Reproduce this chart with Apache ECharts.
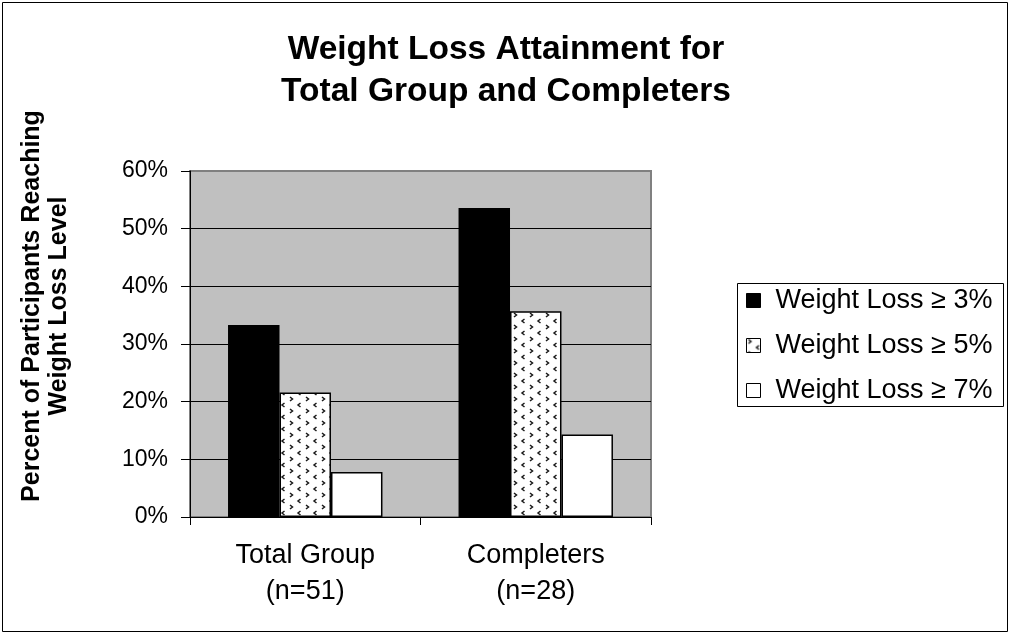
<!DOCTYPE html>
<html>
<head>
<meta charset="utf-8">
<script src="https://cdn.jsdelivr.net/npm/echarts@6/dist/echarts.min.js"></script>
<style>
  html, body { margin: 0; padding: 0; background: #fff; }
  #chart { width: 1012px; height: 635px; }
</style>
</head>
<body>
<div id="chart"></div>
<script>
// Chart data
const categories = ['Total Group\n(n=51)', 'Completers\n(n=28)'];
const seriesNames = ['Weight Loss \u2265 3%', 'Weight Loss \u2265 5%', 'Weight Loss \u2265 7%'];
const loss3 = [33.3, 53.6];
const loss5 = [21.6, 35.7];
const loss7 = [7.8, 14.3];
const yTicks = { min: 0, max: 60, interval: 10 };

const FONT = '"Liberation Sans", Arial, sans-serif';

// Small tile of alternating chevrons used as the fill of the middle series
function chevronTile() {
  const c = document.createElement('canvas');
  c.width = 16; c.height = 12;
  const g = c.getContext('2d');
  g.fillStyle = '#ffffff';
  g.fillRect(0, 0, 16, 12);
  g.strokeStyle = '#1a1a1a';
  g.lineWidth = 1.5;
  g.beginPath(); g.moveTo(2, 1); g.lineTo(4.5, 3); g.lineTo(2, 5); g.stroke();
  g.beginPath(); g.moveTo(12.5, 7); g.lineTo(10, 9); g.lineTo(12.5, 11); g.stroke();
  return c;
}

const chart = echarts.init(document.getElementById('chart'), null, { renderer: 'canvas' });

const barBase = { type: 'bar', barGap: '0%', barCategoryGap: '33%' };

chart.setOption({
  animation: false,
  backgroundColor: '#ffffff',
  textStyle: { fontFamily: FONT, color: '#000' },
  title: {
    text: 'Weight Loss Attainment for\nTotal Group and Completers',
    left: 'center',
    top: 24,
    textStyle: { fontFamily: FONT, fontSize: 33.5, fontWeight: 'bold', color: '#000', lineHeight: 42 }
  },
  grid: {
    left: 190, top: 171, width: 461, height: 346,
    show: true, backgroundColor: '#c0c0c0', borderColor: '#808080', borderWidth: 2
  },
  legend: {
    orient: 'vertical',
    left: 746, top: 287,
    itemWidth: 14, itemHeight: 14, itemGap: 18,
    icon: 'rect',
    padding: 0,
    textStyle: { fontFamily: FONT, fontSize: 27, lineHeight: 27, color: '#000', padding: [0, 0, 0, 10] },
    itemStyle: { borderColor: '#000', borderWidth: 1 },
    data: seriesNames
  },
  xAxis: {
    type: 'category',
    data: categories,
    axisLine: { lineStyle: { color: '#000', width: 1 } },
    axisTick: { show: true, length: 8, lineStyle: { color: '#000' } },
    axisLabel: { fontFamily: FONT, fontSize: 27, color: '#000', margin: 21, lineHeight: 36 }
  },
  yAxis: {
    type: 'value',
    min: yTicks.min, max: yTicks.max, interval: yTicks.interval,
    axisLine: { show: true, lineStyle: { color: '#000', width: 1 } },
    axisTick: { show: true, length: 9, lineStyle: { color: '#000' } },
    axisLabel: { fontFamily: FONT, fontSize: 23, color: '#000', margin: 22, formatter: '{value}%' },
    splitLine: { show: true, showMaxLine: false, lineStyle: { color: '#000', width: 1 } }
  },
  series: [
    Object.assign({}, barBase, {
      name: seriesNames[0], data: loss3,
      itemStyle: { color: '#000', borderColor: '#000', borderWidth: 1.5 }
    }),
    Object.assign({}, barBase, {
      name: seriesNames[1], data: loss5,
      itemStyle: { color: { image: chevronTile(), repeat: 'repeat' }, borderColor: '#000', borderWidth: 1.5 }
    }),
    Object.assign({}, barBase, {
      name: seriesNames[2], data: loss7,
      itemStyle: { color: '#fff', borderColor: '#000', borderWidth: 1.5 }
    })
  ],
  graphic: [
    // outer frame of the chart
    { type: 'rect', z: 100, shape: { x: 2.5, y: 2.5, width: 1005, height: 629 },
      style: { fill: null, stroke: '#000', lineWidth: 1 } },
    // legend frame
    { type: 'rect', z: 100, shape: { x: 737.5, y: 283.5, width: 266, height: 123 },
      style: { fill: null, stroke: '#000', lineWidth: 1 } },
    // y-axis title (two rotated lines)
    { type: 'text', z: 100, x: 46, y: 306, rotation: Math.PI / 2,
      style: {
        text: 'Percent of Participants Reaching\nWeight Loss Level',
        font: 'bold 25px ' + FONT, fill: '#000',
        align: 'center', verticalAlign: 'middle', lineHeight: 27
      } }
  ]
});
</script>
</body>
</html>
